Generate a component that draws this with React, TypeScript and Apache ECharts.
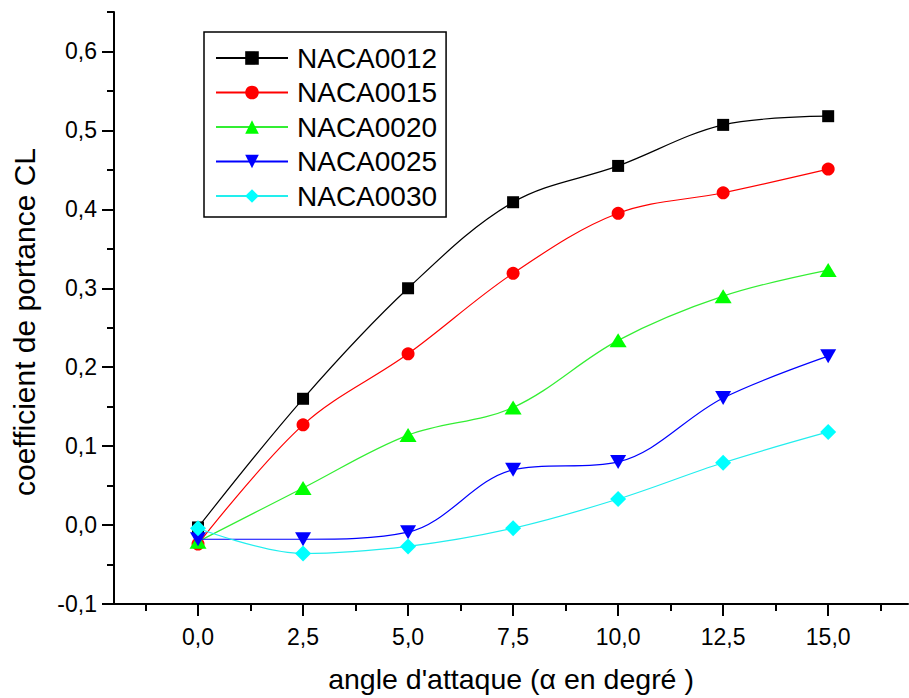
import React, { useEffect, useRef } from "react";
import * as echarts from "echarts";

// Angle of attack (degrees)
const angles = [0, 2.5, 5, 7.5, 10, 12.5, 15];

// Lift coefficient CL for each profile
const naca0012 = [-0.003, 0.16, 0.3, 0.409, 0.455, 0.507, 0.518];
const naca0015 = [-0.024, 0.127, 0.217, 0.319, 0.395, 0.421, 0.451];
const naca0020 = [-0.021, 0.047, 0.114, 0.149, 0.234, 0.29, 0.323];
const naca0025 = [-0.018, -0.018, -0.009, 0.07, 0.08, 0.161, 0.214];
const naca0030 = [-0.004, -0.036, -0.027, -0.004, 0.033, 0.079, 0.118];

const seriesNames = ["NACA0012", "NACA0015", "NACA0020", "NACA0025", "NACA0030"];

// Axis ticks
const xMajorTicks = [0, 2.5, 5, 7.5, 10, 12.5, 15];
const xMinorTicks = [-1.25, 1.25, 3.75, 6.25, 8.75, 11.25, 13.75, 16.25];
const yMajorTicks = [-0.1, 0, 0.1, 0.2, 0.3, 0.4, 0.5, 0.6];
const yMinorTicks = [-0.05, 0.05, 0.15, 0.25, 0.35, 0.45, 0.55, 0.65];

const FONT = "'Liberation Sans', Arial, Helvetica, sans-serif";

const fmt = (v: number) => v.toFixed(1).replace(".", ",");

export default function App() {
  const ref = useRef<HTMLDivElement | null>(null);

  useEffect(() => {
    if (!ref.current) return;
    const chart = echarts.init(ref.current, undefined, { renderer: "svg" });

    const values = [naca0012, naca0015, naca0020, naca0025, naca0030];
    const colors = ["#000000", "#ff0000", "#00ff00", "#0000ff", "#00ffff"];
    const lineColors = ["#000000", "#ff0000", "#33ee33", "#0000ff", "#22eeee"];
    const symbols = ["rect", "circle", "triangle", "triangle", "diamond"];
    const sizes: any[] = [12, 13, [17, 14], [16, 14], [16, 16]];
    const rotates = [0, 0, 0, 180, 0];

    const series = values.map((vals, k) => ({
      name: seriesNames[k],
      type: "line",
      smooth: 0.35,
      symbol: symbols[k],
      symbolSize: sizes[k],
      symbolRotate: rotates[k],
      showAllSymbol: true,
      lineStyle: { color: lineColors[k], width: 1.2 },
      itemStyle: { color: colors[k] },
      data: angles.map((a, i) => [a, vals[i]]),
      z: 2 + k,
    }));

    const axisLineStyle = { color: "#000", width: 2 };

    chart.setOption({
      animation: false,
      backgroundColor: "#ffffff",
      grid: { left: 114, top: 12, right: 1, bottom: 91, containLabel: false },
      legend: {
        orient: "vertical",
        left: 204,
        top: 32,
        itemWidth: 72,
        itemHeight: 17,
        itemGap: 6.5,
        padding: [12, 9, 7, 11],
        borderColor: "#000",
        borderWidth: 1.5,
        textStyle: { fontSize: 28, color: "#000", fontFamily: FONT, padding: [0, 0, 0, 4] },
        data: seriesNames,
      },
      xAxis: [
        {
          type: "value",
          min: -2,
          max: 16.9,
          position: "bottom",
          axisLine: { onZero: false, lineStyle: axisLineStyle },
          axisTick: { length: 12, lineStyle: axisLineStyle, customValues: xMajorTicks },
          axisLabel: {
            customValues: xMajorTicks,
            formatter: (v: number) => fmt(v),
            margin: 21,
            fontSize: 23,
            color: "#000",
            fontFamily: FONT,
          },
          splitLine: { show: false },
          name: "angle d'attaque (α en degré )",
          nameLocation: "middle",
          nameGap: 60,
          nameTextStyle: { fontSize: 28.5, color: "#000", fontFamily: FONT },
        },
        {
          type: "value",
          min: -2,
          max: 16.9,
          position: "bottom",
          axisLine: { show: false, onZero: false },
          axisTick: { length: 7, lineStyle: axisLineStyle, customValues: xMinorTicks },
          axisLabel: { show: false },
          splitLine: { show: false },
        },
      ],
      yAxis: [
        {
          type: "value",
          min: -0.1,
          max: 0.65,
          position: "left",
          axisLine: { onZero: false, lineStyle: axisLineStyle },
          axisTick: { length: 12, lineStyle: axisLineStyle, customValues: yMajorTicks },
          axisLabel: {
            customValues: yMajorTicks,
            formatter: (v: number) => fmt(v),
            margin: 17,
            fontSize: 23,
            color: "#000",
            fontFamily: FONT,
          },
          splitLine: { show: false },
        },
        {
          type: "value",
          min: -0.1,
          max: 0.65,
          position: "left",
          axisLine: { show: false, onZero: false },
          axisTick: { length: 7, lineStyle: axisLineStyle, customValues: yMinorTicks },
          axisLabel: { show: false },
          splitLine: { show: false },
        },
      ],
      graphic: [
        {
          type: "text",
          x: 24,
          y: 322,
          rotation: Math.PI / 2,
          style: {
            text: "coefficient de portance CL",
            fontSize: 30,
            fontFamily: FONT,
            fill: "#000",
            textAlign: "center",
            textVerticalAlign: "middle",
          },
        },
      ],
      series,
    });

    return () => chart.dispose();
  }, []);

  return (
    <div
      ref={ref}
      style={{ position: "fixed", left: 0, top: 0, width: 909, height: 698, background: "#fff" }}
    />
  );
}
